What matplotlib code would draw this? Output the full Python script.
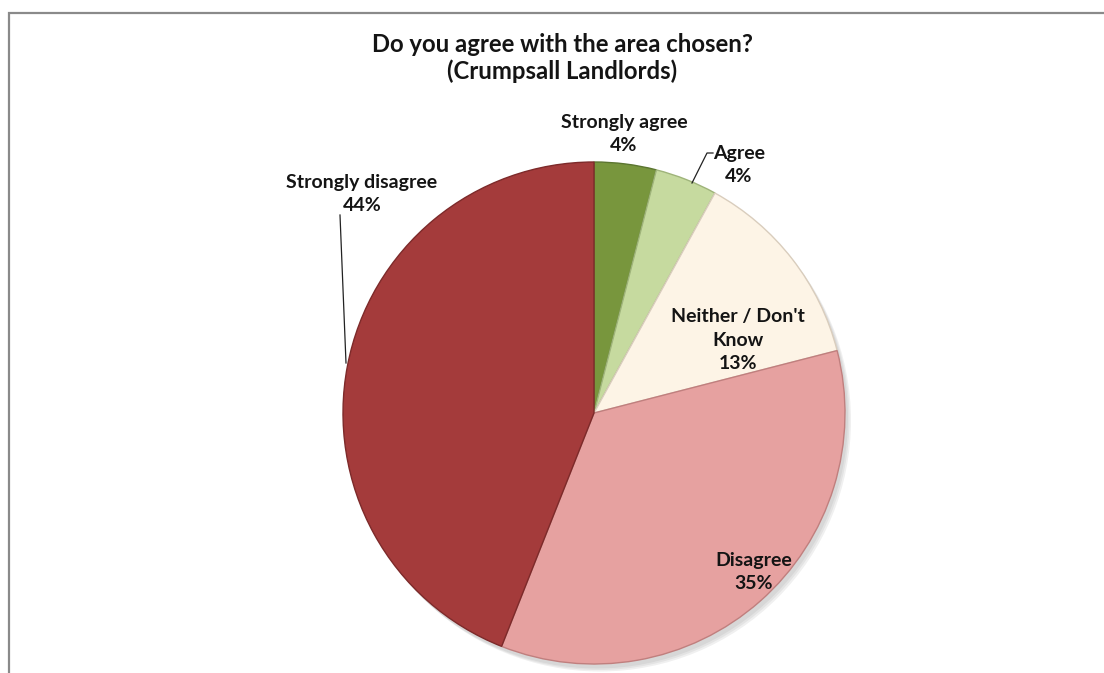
import matplotlib.pyplot as plt
from matplotlib.patches import Rectangle, Circle

# survey answers, clockwise from the top
labels = ['Strongly agree', 'Agree', "Neither / Don't\nKnow", 'Disagree', 'Strongly disagree']
values = [4, 4, 13, 35, 44]
colors = ['#78963d', '#c6da9f', '#fdf4e6', '#e6a1a0', '#a43b3b']
edges = ['#5b7530', '#9fb47a', '#d9cdbd', '#c07f7e', '#7d2a2a']

plt.rcParams['font.family'] = ['Lato', 'DejaVu Sans']

fig = plt.figure(figsize=(11.04, 6.73), dpi=100)
W, H = 1104, 673

# grey chart-area frame
fig.patches.append(Rectangle((8.5 / W, -0.1), 1.2, 1 - 12.5 / H + 0.1,
                             transform=fig.transFigure, fill=False,
                             edgecolor='#8a8a8a', linewidth=1.6))

cx, cy, r = 594, 413, 251
ax = fig.add_axes([(cx - r) / W, (H - cy - r) / H, 2 * r / W, 2 * r / H])

# soft drop shadow under the pie
for i, a in enumerate([0.05, 0.05, 0.06]):
    ax.add_patch(Circle((0.012 + 0.006 * i, -0.018 - 0.006 * i), 1.0,
                        color='#000000', alpha=a, zorder=0, linewidth=0,
                        clip_on=False))

wedges, _ = ax.pie(values, colors=colors, startangle=90, counterclock=False,
                   radius=1.0, wedgeprops=dict(linewidth=1.0))
for w, e in zip(wedges, edges):
    w.set_edgecolor(e)
    w.set_zorder(2)
    w.set_clip_on(False)

ax.set_xlim(-1, 1)
ax.set_ylim(-1, 1)
ax.set_aspect('auto')
ax.axis('off')

def pos(px, py):
    return (px - cx) / r, (cy - py) / r

# data labels
label_pos = [(624, 134), (739, 165), (738, 340), (754, 572), (362, 194)]
for lab, v, (px, py) in zip(labels, values, label_pos):
    x, y = pos(px, py)
    ax.text(x, y, f'{lab}\n{v}%', ha='center', va='center', fontsize=14,
            fontweight='bold', color='#141414', linespacing=1.45, zorder=5,
            clip_on=False)

# leader lines
for pts in [[(692, 183), (707, 153), (713, 153)], [(340, 215), (346, 363)]]:
    xs, ys = zip(*[pos(px, py) for px, py in pts])
    ax.plot(xs, ys, color='#222222', linewidth=0.9, zorder=4, clip_on=False)

fig.text(562 / W, 1 - 58 / H, 'Do you agree with the area chosen?\n(Crumpsall Landlords)',
         ha='center', va='center', fontsize=17.2, fontweight='bold',
         color='#141414', linespacing=1.18)

fig.savefig('out.png', dpi=100, facecolor='white')
